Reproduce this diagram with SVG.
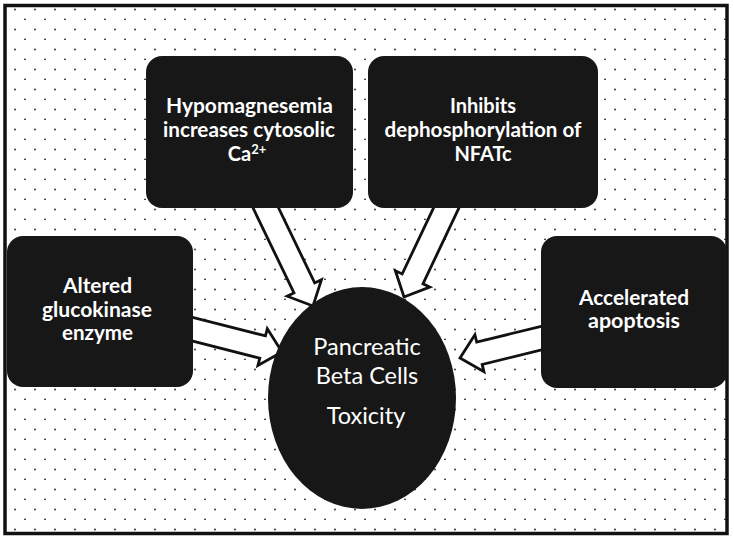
<svg xmlns="http://www.w3.org/2000/svg" width="734" height="540" viewBox="0 0 734 540">
<defs>
<pattern id="dots" patternUnits="userSpaceOnUse" x="0" y="0" width="20" height="20">
<circle cx="15" cy="9.5" r="0.9" fill="#222"/>
<circle cx="5" cy="19.5" r="0.9" fill="#222"/>
</pattern>
<style>
.box{fill:#171717;}
.arrow{fill:#fff;stroke:#111;stroke-width:2.8;stroke-linejoin:miter;}
.bt{font-family:Lato,"Open Sans",sans-serif;font-weight:bold;font-size:20px;fill:#fff;text-anchor:middle;}
.ct{font-family:Lato,"Open Sans",sans-serif;font-size:23.5px;fill:#fff;text-anchor:middle;}
</style>
</defs>
<rect x="0" y="0" width="734" height="540" fill="#fff"/>
<rect x="5" y="5.5" width="722" height="528" fill="url(#dots)" stroke="#111" stroke-width="3.5"/>
<g id="connectors">
<polygon class="arrow" points="272.37,195.01 314.70,282.98 321.46,279.73 313,306 287.20,296.21 293.96,292.96 251.63,204.99"/>
<polygon class="arrow" points="460.39,204.93 422.96,283.86 429.74,287.07 404,297 395.40,270.79 402.18,274.00 439.61,195.07"/>
<polygon class="arrow" points="177.16,337.14 259.78,358.20 257.93,365.47 282,352 267.31,328.65 265.46,335.92 182.84,314.86"/>
<polygon class="arrow" points="552.73,347.17 482.16,364.42 483.94,371.71 460,358 474.92,334.79 476.70,342.08 547.27,324.83"/>
</g>
<g id="node-hypomagnesemia">
<rect class="box" x="146" y="56" width="207" height="152" rx="16"/>
<text class="bt" x="249.5" y="113" textLength="167" lengthAdjust="spacingAndGlyphs">Hypomagnesemia</text>
<text class="bt" x="249" y="137" textLength="172" lengthAdjust="spacingAndGlyphs">increases cytosolic</text>
<text class="bt" x="247" y="161">Ca<tspan font-size="13" dy="-7">2+</tspan></text>
</g>
<g id="node-inhibits">
<rect class="box" x="368" y="56" width="230" height="152" rx="16"/>
<text class="bt" x="483" y="113">Inhibits</text>
<text class="bt" x="483" y="137" textLength="197" lengthAdjust="spacingAndGlyphs">dephosphorylation of</text>
<text class="bt" x="483" y="161">NFATc</text>
</g>
<g id="node-altered">
<rect class="box" x="7" y="236" width="186" height="151" rx="16"/>
<text class="bt" x="97.5" y="293" textLength="69" lengthAdjust="spacingAndGlyphs">Altered</text>
<text class="bt" x="97" y="317" textLength="110" lengthAdjust="spacingAndGlyphs">glucokinase</text>
<text class="bt" x="97.5" y="340" textLength="71" lengthAdjust="spacingAndGlyphs">enzyme</text>
</g>
<g id="node-accelerated">
<rect class="box" x="541" y="236" width="186" height="152" rx="16"/>
<text class="bt" x="634" y="305" textLength="110" lengthAdjust="spacingAndGlyphs">Accelerated</text>
<text class="bt" x="634" y="328" textLength="92" lengthAdjust="spacingAndGlyphs">apoptosis</text>
</g>
<g id="node-pancreatic">
<ellipse cx="362" cy="398" rx="94" ry="111" fill="#171717"/>
<text class="ct" x="367" y="355">Pancreatic</text>
<text class="ct" x="367" y="384">Beta Cells</text>
<text class="ct" x="366" y="424">Toxicity</text>
</g>
</svg>
